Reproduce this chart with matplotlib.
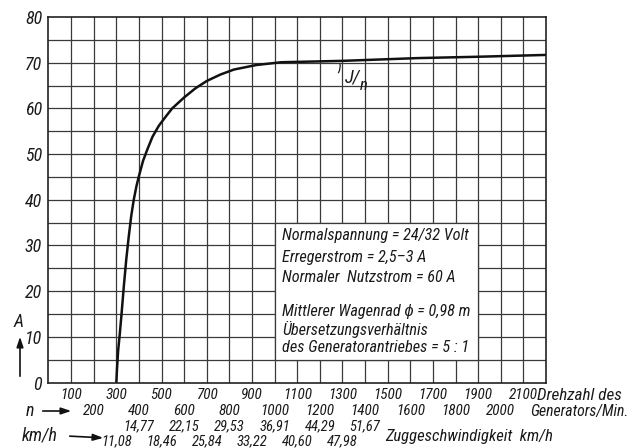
import matplotlib
matplotlib.use("Agg")
import matplotlib.pyplot as plt
from matplotlib.patches import Rectangle, FancyArrowPatch

# ---- data ----
rpm = [300, 303, 308, 315, 323, 333, 344, 355, 366, 377, 389, 400, 418, 437, 460,
       488, 520, 547, 600, 650, 700, 760, 820, 920, 1030, 1300, 1630, 1900, 2200]
current = [0, 3, 7, 10.5, 15, 21, 27, 32, 36.5, 40, 43, 45.2, 48.5, 51, 53.8,
           56.2, 58.3, 60, 62.4, 64.4, 66, 67.4, 68.5, 69.5, 70.1, 70.4, 71.0, 71.3, 71.7]

rpm_row1 = [100, 300, 500, 700, 900, 1100, 1300, 1500, 1700, 1900, 2100]
rpm_row2 = [200, 400, 600, 800, 1000, 1200, 1400, 1600, 1800, 2000]
kmh_upper_pos = [400, 600, 800, 1000, 1200, 1400]
kmh_upper = ["14,77", "22,15", "29,53", "36,91", "44,29", "51,67"]
kmh_lower_pos = [300, 500, 700, 900, 1100, 1300]
kmh_lower = ["11,08", "18,46", "25,84", "33,22", "40,60", "47,98"]
y_ticks = [0, 10, 20, 30, 40, 50, 60, 70, 80]

box_lines = ["Normalspannung = 24/32 Volt",
             "Erregerstrom = 2,5\u20133 A",
             "Normaler  Nutzstrom = 60 A",
             "Mittlerer Wagenrad \u03d5 = 0,98 m",
             "\u00dcbersetzungsverh\u00e4ltnis",
             "des Generatorantriebes = 5 : 1"]
box_line_y = [32.1, 27.3, 23.0, 15.6, 11.6, 7.6]

FONT = ['Roboto Condensed', 'Liberation Sans', 'DejaVu Sans']
plt.rcParams['font.family'] = FONT
plt.rcParams['font.style'] = 'italic'

W, H = 638, 448
fig = plt.figure(figsize=(W / 100, H / 100), dpi=100)
fig.patch.set_facecolor('white')
L, R, B, T = 48.5, 546, 382.5, 17
ax = fig.add_axes([L / W, (H - B) / H, (R - L) / W, (B - T) / H])
ax.set_xlim(0, 2200)
ax.set_ylim(0, 80)

gc = '#3a3a3a'
for xv in range(100, 2200, 100):
    ax.axvline(xv, color=gc, lw=0.9, zorder=1)
for yv in range(5, 80, 5):
    ax.axhline(yv, color=gc, lw=0.9, zorder=1)
for s in ax.spines.values():
    s.set_linewidth(1.2)
    s.set_color('#222222')

# info box covering the grid
ax.add_patch(Rectangle((1000, 5), 900, 30, facecolor='white', edgecolor=gc, lw=0.9, zorder=2))
for txt, yy in zip(box_lines, box_line_y):
    ax.text(1032, yy, txt, fontsize=11.7, va='center', ha='left', zorder=3, color='#1a1a1a')

ax.plot(rpm, current, color='#111111', lw=1.8, zorder=4, solid_capstyle='butt')

# J/n label with little leader
ax.annotate('', xy=(1285, 70.4), xytext=(1275, 67.3),
            arrowprops=dict(arrowstyle='-', color='#222222', lw=0.9,
                            connectionstyle='arc3,rad=0.3'))
ax.text(1345, 66.8, 'J/', fontsize=13.5, ha='center', va='center', color='#1a1a1a')
ax.text(1393, 65.0, 'n', fontsize=12, ha='center', va='center', color='#1a1a1a')

ax.set_xticks([])
ax.set_yticks(y_ticks)
ax.set_yticklabels([str(v) for v in y_ticks], fontsize=13, color='#1a1a1a')
ax.tick_params(axis='y', length=0, pad=4.5)

tcol = '#1a1a1a'
fs = 11
for xv in rpm_row1:
    ax.annotate(str(xv), xy=(xv, 0), xycoords=('data', 'axes fraction'),
                xytext=(0, -12.5 * 0.72), textcoords='offset points',
                ha='center', va='center', fontsize=fs, color=tcol)
for xv in rpm_row2:
    ax.annotate(str(xv), xy=(xv, 0), xycoords=('data', 'axes fraction'),
                xytext=(0, -28.5 * 0.72), textcoords='offset points',
                ha='center', va='center', fontsize=fs, color=tcol)
for xv, lab in zip(kmh_upper_pos, kmh_upper):
    ax.annotate(lab, xy=(xv, 0), xycoords=('data', 'axes fraction'),
                xytext=(0, -43.5 * 0.72), textcoords='offset points',
                ha='center', va='center', fontsize=fs - 0.5, color=tcol)
for xv, lab in zip(kmh_lower_pos, kmh_lower):
    ax.annotate(lab, xy=(xv, 0), xycoords=('data', 'axes fraction'),
                xytext=(0, -59 * 0.72), textcoords='offset points',
                ha='center', va='center', fontsize=fs - 0.5, color=tcol,
                annotation_clip=False)

def fx(px):
    return px / W

def fy(py):
    return (H - py) / H

fig.text(fx(537), fy(395), 'Drehzahl des', fontsize=12.3, ha='left', va='center', color=tcol)
fig.text(fx(530), fy(411), 'Generators/Min.', fontsize=11.3, ha='left', va='center', color=tcol)
fig.text(fx(385), fy(436), 'Zuggeschwindigkeit  km/h', fontsize=12, ha='left', va='center', color=tcol)
fig.text(fx(30), fy(411), 'n', fontsize=13, ha='center', va='center', color=tcol)
fig.text(fx(40), fy(435), 'km/h', fontsize=13, ha='center', va='center', color=tcol)
fig.text(fx(18.5), fy(322), 'A', fontsize=13, ha='center', va='center', color=tcol)

arrow_kw = dict(arrowstyle='-|>,head_length=0.6,head_width=0.2', color='#111111', lw=1.2,
                mutation_scale=10)
fig.add_artist(FancyArrowPatch((fx(40), fy(411)), (fx(74), fy(411)),
                               transform=fig.transFigure, **arrow_kw))
fig.add_artist(FancyArrowPatch((fx(67), fy(436)), (fx(106), fy(438)),
                               transform=fig.transFigure, **arrow_kw))
fig.add_artist(FancyArrowPatch((fx(20), fy(379)), (fx(20), fy(334)),
                               transform=fig.transFigure, **arrow_kw))

fig.savefig('out.png', dpi=100, facecolor='white')
